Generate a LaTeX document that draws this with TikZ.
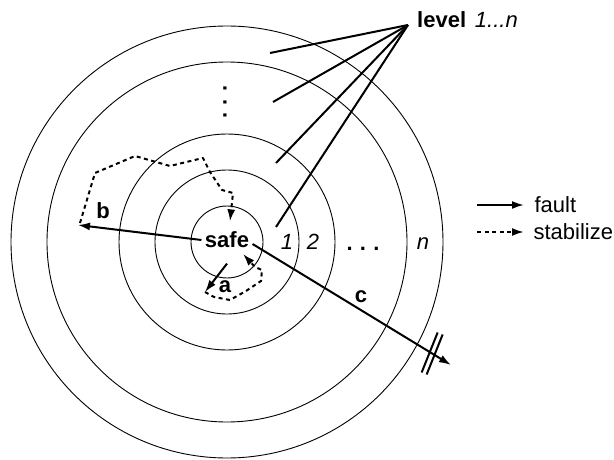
\documentclass[tikz,border=0pt]{standalone}
\usepackage{fontspec}
\setmainfont{Liberation Sans}
\usetikzlibrary{arrows.meta}
\begin{document}
\begin{tikzpicture}[x=1pt,y=-1pt,
  ring/.style={line width=0.9pt},
  fault/.style={line width=2pt,-{Latex[length=12pt,width=8pt]}},
  stab/.style={line width=2pt,dash pattern=on 4pt off 3.5pt,line join=round,-{Latex[length=12pt,width=8pt]}},
  lvlline/.style={line width=2pt},
  lab/.style={font=\fontsize{22}{26}\selectfont\bfseries},
  num/.style={font=\fontsize{22}{26}\selectfont\itshape},
  txt/.style={font=\fontsize{22}{26}\selectfont}]
\useasboundingbox (0,0) rectangle (614,460);
\coordinate (O) at (227,242);
\foreach \r in {36,72,108,180,216} \draw[ring] (O) circle[radius=\r pt];

% centre and level labels
\node[lab] (safe) at (227,240) {safe};
\node[num, anchor=base] (l1) at (287,249) {1};
\node[num, anchor=base] (l2) at (313,249) {2};
\node[num, anchor=base] (ln) at (423,249) {n};
\node[lab] (hdots) at (363,249) {.\,\,.\,\,.};
\node[lab, rotate=90] (vdots) at (225,102) {.\,\,.\,\,.};

% level pointer
\node[lab, anchor=base west, inner sep=0] (level) at (417,28) {level\hspace{0.4em}{\mdseries\itshape 1...n}};
\coordinate (p1) at (276,227);
\coordinate (p2) at (276,163);
\coordinate (p3) at (273,102);
\coordinate (pn) at (270,53);
\foreach \p in {p1,p2,p3,pn}
  \draw[lvlline] ([xshift=-9pt,yshift=3pt]level.base west) -- (\p);

% fault arrows
\coordinate (atip) at (205,292);
\coordinate (btip) at (78,225);
\coordinate (ctip) at (451,365);
\draw[fault] ([yshift=-12pt]safe.south) -- (atip);
\draw[fault] (safe.west) -- (btip);
\draw[fault] ([yshift=-4pt]safe.east) -- (ctip);
\path ([yshift=-4pt]safe.east) -- (ctip) coordinate[pos=0.905] (brk);
\draw[line width=2pt] ([shift={(-2.5,-1)}]brk) ++(-8,20) -- ++(16,-40);
\draw[line width=2pt] ([shift={(2.5,1)}]brk) ++(-8,20) -- ++(16,-40);

\node[lab] (la) at (225,287) {a};
\node[lab] (lb) at (103,211) {b};
\node[lab] (lc) at (361,297) {c};

% stabilize paths
\draw[stab] ([shift={(2,-2)}]btip) -- (95,173) -- (135,156) -- (170,166) -- (203,158)
  -- (210,172) -- (222,190) -- (233,193) -- ([xshift=3pt,yshift=7pt]safe.north);
\draw[stab] (atip) -- (214,297) -- (230,300) -- (246,291) -- (261,281) -- (262,270)
  -- (255,267) -- (243,254);

% legend
\node[txt, anchor=west] (lf) at (531,205) {fault};
\node[txt, anchor=west] (ls) at (530,232) {stabilize};
\draw[fault] ([xshift=-54pt]lf.west) -- ([xshift=-7pt]lf.west);
\draw[stab] ([xshift=-53pt]ls.west) -- ([xshift=-6pt]ls.west);
\end{tikzpicture}
\end{document}
